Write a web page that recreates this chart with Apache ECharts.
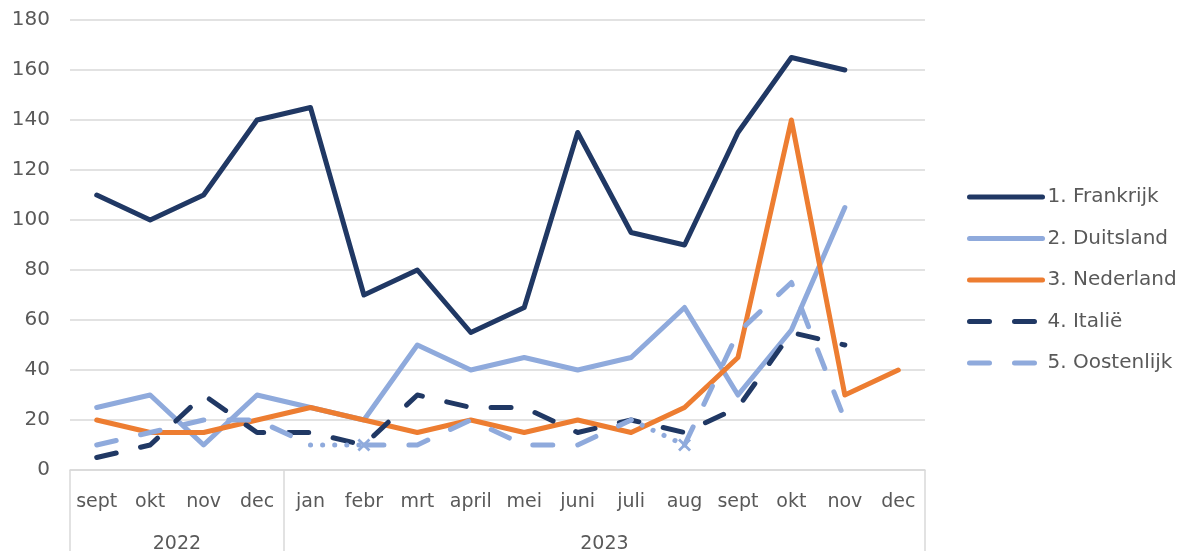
<!DOCTYPE html>
<html>
<head>
<meta charset="utf-8">
<script src="https://cdn.jsdelivr.net/npm/echarts@6/dist/echarts.min.js"></script>
<style>
  html, body { margin: 0; padding: 0; background: #fff; }
  #chart { width: 1184px; height: 551px; }
</style>
</head>
<body>
<div id="chart"></div>
<script>
// categorieën (maanden) en jaargroepen
const months = ['sept', 'okt', 'nov', 'dec', 'jan', 'febr', 'mrt', 'april', 'mei', 'juni', 'juli', 'aug', 'sept', 'okt', 'nov', 'dec']
const years = ['2022', '2023']
const yearSizes = [4, 12]

const yTicks = [0, 20, 40, 60, 80, 100, 120, 140, 160, 180]

// waarden per land
const frankrijk = [110, 100, 110, 140, 145, 70, 80, 55, 65, 135, 95, 90, 135, 165, 160, null]
const duitsland = [25, 30, 10, 30, 25, 20, 50, 40, 45, 40, 45, 65, 30, 56, 105, null]
const nederland = [20, 15, 15, 20, 25, 20, 15, 20, 15, 20, 15, 25, 45, 140, 30, 40]
const italie = [5, 10, 30, 15, 15, 10, 30, 25, 25, 15, 20, 15, 25, 55, 50, null]
const oostenlijk = [10, 15, 20, 20, 10, 10, 10, 20, 10, 10, 20, 10, 55, 75, 20, null]

// stukken van Oostenlijk die gestippeld zijn (met kruisje op het eindpunt)
const dottedParts = [[4, 5], [10, 11]]
const dashedParts = [[0, 4], [5, 10], [11, 14]]

const NAVY = '#203864'
const LIGHT = '#8faadc'
const ORANGE = '#ed7d31'
const GRID = '#d9d9d9'
const TEXT = '#595959'
const FONT = 'DejaVu Sans'
const CROSS = 'path://M0,1.5L1.5,0L5,3.5L8.5,0L10,1.5L6.5,5L10,8.5L8.5,10L5,6.5L1.5,10L0,8.5L3.5,5Z'

function part(values, from, to) {
  return values.map((v, i) => (i >= from && i <= to ? v : null))
}

// jaargrenzen en jaarmiddens in categorie-eenheden
const yearBounds = [0]
const yearCenters = []
yearSizes.forEach(n => {
  const start = yearBounds[yearBounds.length - 1]
  yearCenters.push(start + n / 2)
  yearBounds.push(start + n)
})

function lineSeries(name, data, color, dashed) {
  return {
    name: name,
    type: 'line',
    data: data,
    symbol: 'none',
    connectNulls: false,
    lineStyle: {
      color: color,
      width: 5,
      type: dashed ? [20, 25] : 'solid',
      cap: 'round',
      join: 'round'
    },
    itemStyle: { color: color },
    animation: false
  }
}

const series = [
  lineSeries('1. Frankrijk', frankrijk, NAVY, false),
  lineSeries('2. Duitsland', duitsland, LIGHT, false),
  lineSeries('3. Nederland', nederland, ORANGE, false),
  lineSeries('4. Italië', italie, NAVY, true)
]
dashedParts.forEach(p => {
  series.push(lineSeries('5. Oostenlijk', part(oostenlijk, p[0], p[1]), LIGHT, true))
})
dottedParts.forEach((p, k) => {
  series.push({
    name: 'stip' + k,
    type: 'line',
    data: part(oostenlijk, p[0], p[1]),
    showSymbol: true,
    symbol: (val, params) => (params.dataIndex === p[1] ? CROSS : 'none'),
    symbolSize: 13,
    lineStyle: { color: LIGHT, width: 5, type: [0.1, 12], cap: 'round' },
    itemStyle: { color: LIGHT },
    animation: false
  })
})

const chart = echarts.init(document.getElementById('chart'))
chart.setOption({
  animation: false,
  textStyle: { fontFamily: FONT },
  grid: { left: 70, right: 259, top: 20, bottom: 81, containLabel: false, outerBoundsMode: 'none' },
  legend: {
    data: ['1. Frankrijk', '2. Duitsland', '3. Nederland', '4. Italië', '5. Oostenlijk'],
    orient: 'vertical',
    left: 967,
    top: 187,
    padding: 0,
    itemWidth: 73,
    itemHeight: 14,
    itemGap: 21.5,
    itemStyle: { opacity: 0 },
    lineStyle: { width: 5 },
    textStyle: { fontFamily: FONT, fontSize: 20, color: TEXT }
  },
  xAxis: [
    {
      type: 'category',
      data: months,
      boundaryGap: true,
      axisLine: { lineStyle: { color: GRID, width: 1.5 } },
      axisTick: { show: false },
      axisLabel: { interval: 0, fontFamily: FONT, fontSize: 19, color: TEXT, margin: 23 }
    },
    {
      type: 'value',
      position: 'bottom',
      min: 0,
      max: months.length,
      axisLine: { show: false },
      splitLine: { show: false },
      axisTick: {
        show: true,
        customValues: yearBounds,
        length: 81,
        lineStyle: { color: GRID, width: 1.5 }
      },
      axisLabel: {
        customValues: yearCenters,
        formatter: v => years[yearCenters.indexOf(v)] || '',
        fontFamily: FONT,
        fontSize: 19,
        color: TEXT,
        margin: 65
      }
    }
  ],
  yAxis: {
    type: 'value',
    min: yTicks[0],
    max: yTicks[yTicks.length - 1],
    interval: 20,
    axisLine: { show: false },
    axisTick: { show: false },
    splitLine: { lineStyle: { color: GRID, width: 1.5 } },
    axisLabel: { fontFamily: FONT, fontSize: 20, color: TEXT, margin: 20 }
  },
  series: series
})
</script>
</body>
</html>
